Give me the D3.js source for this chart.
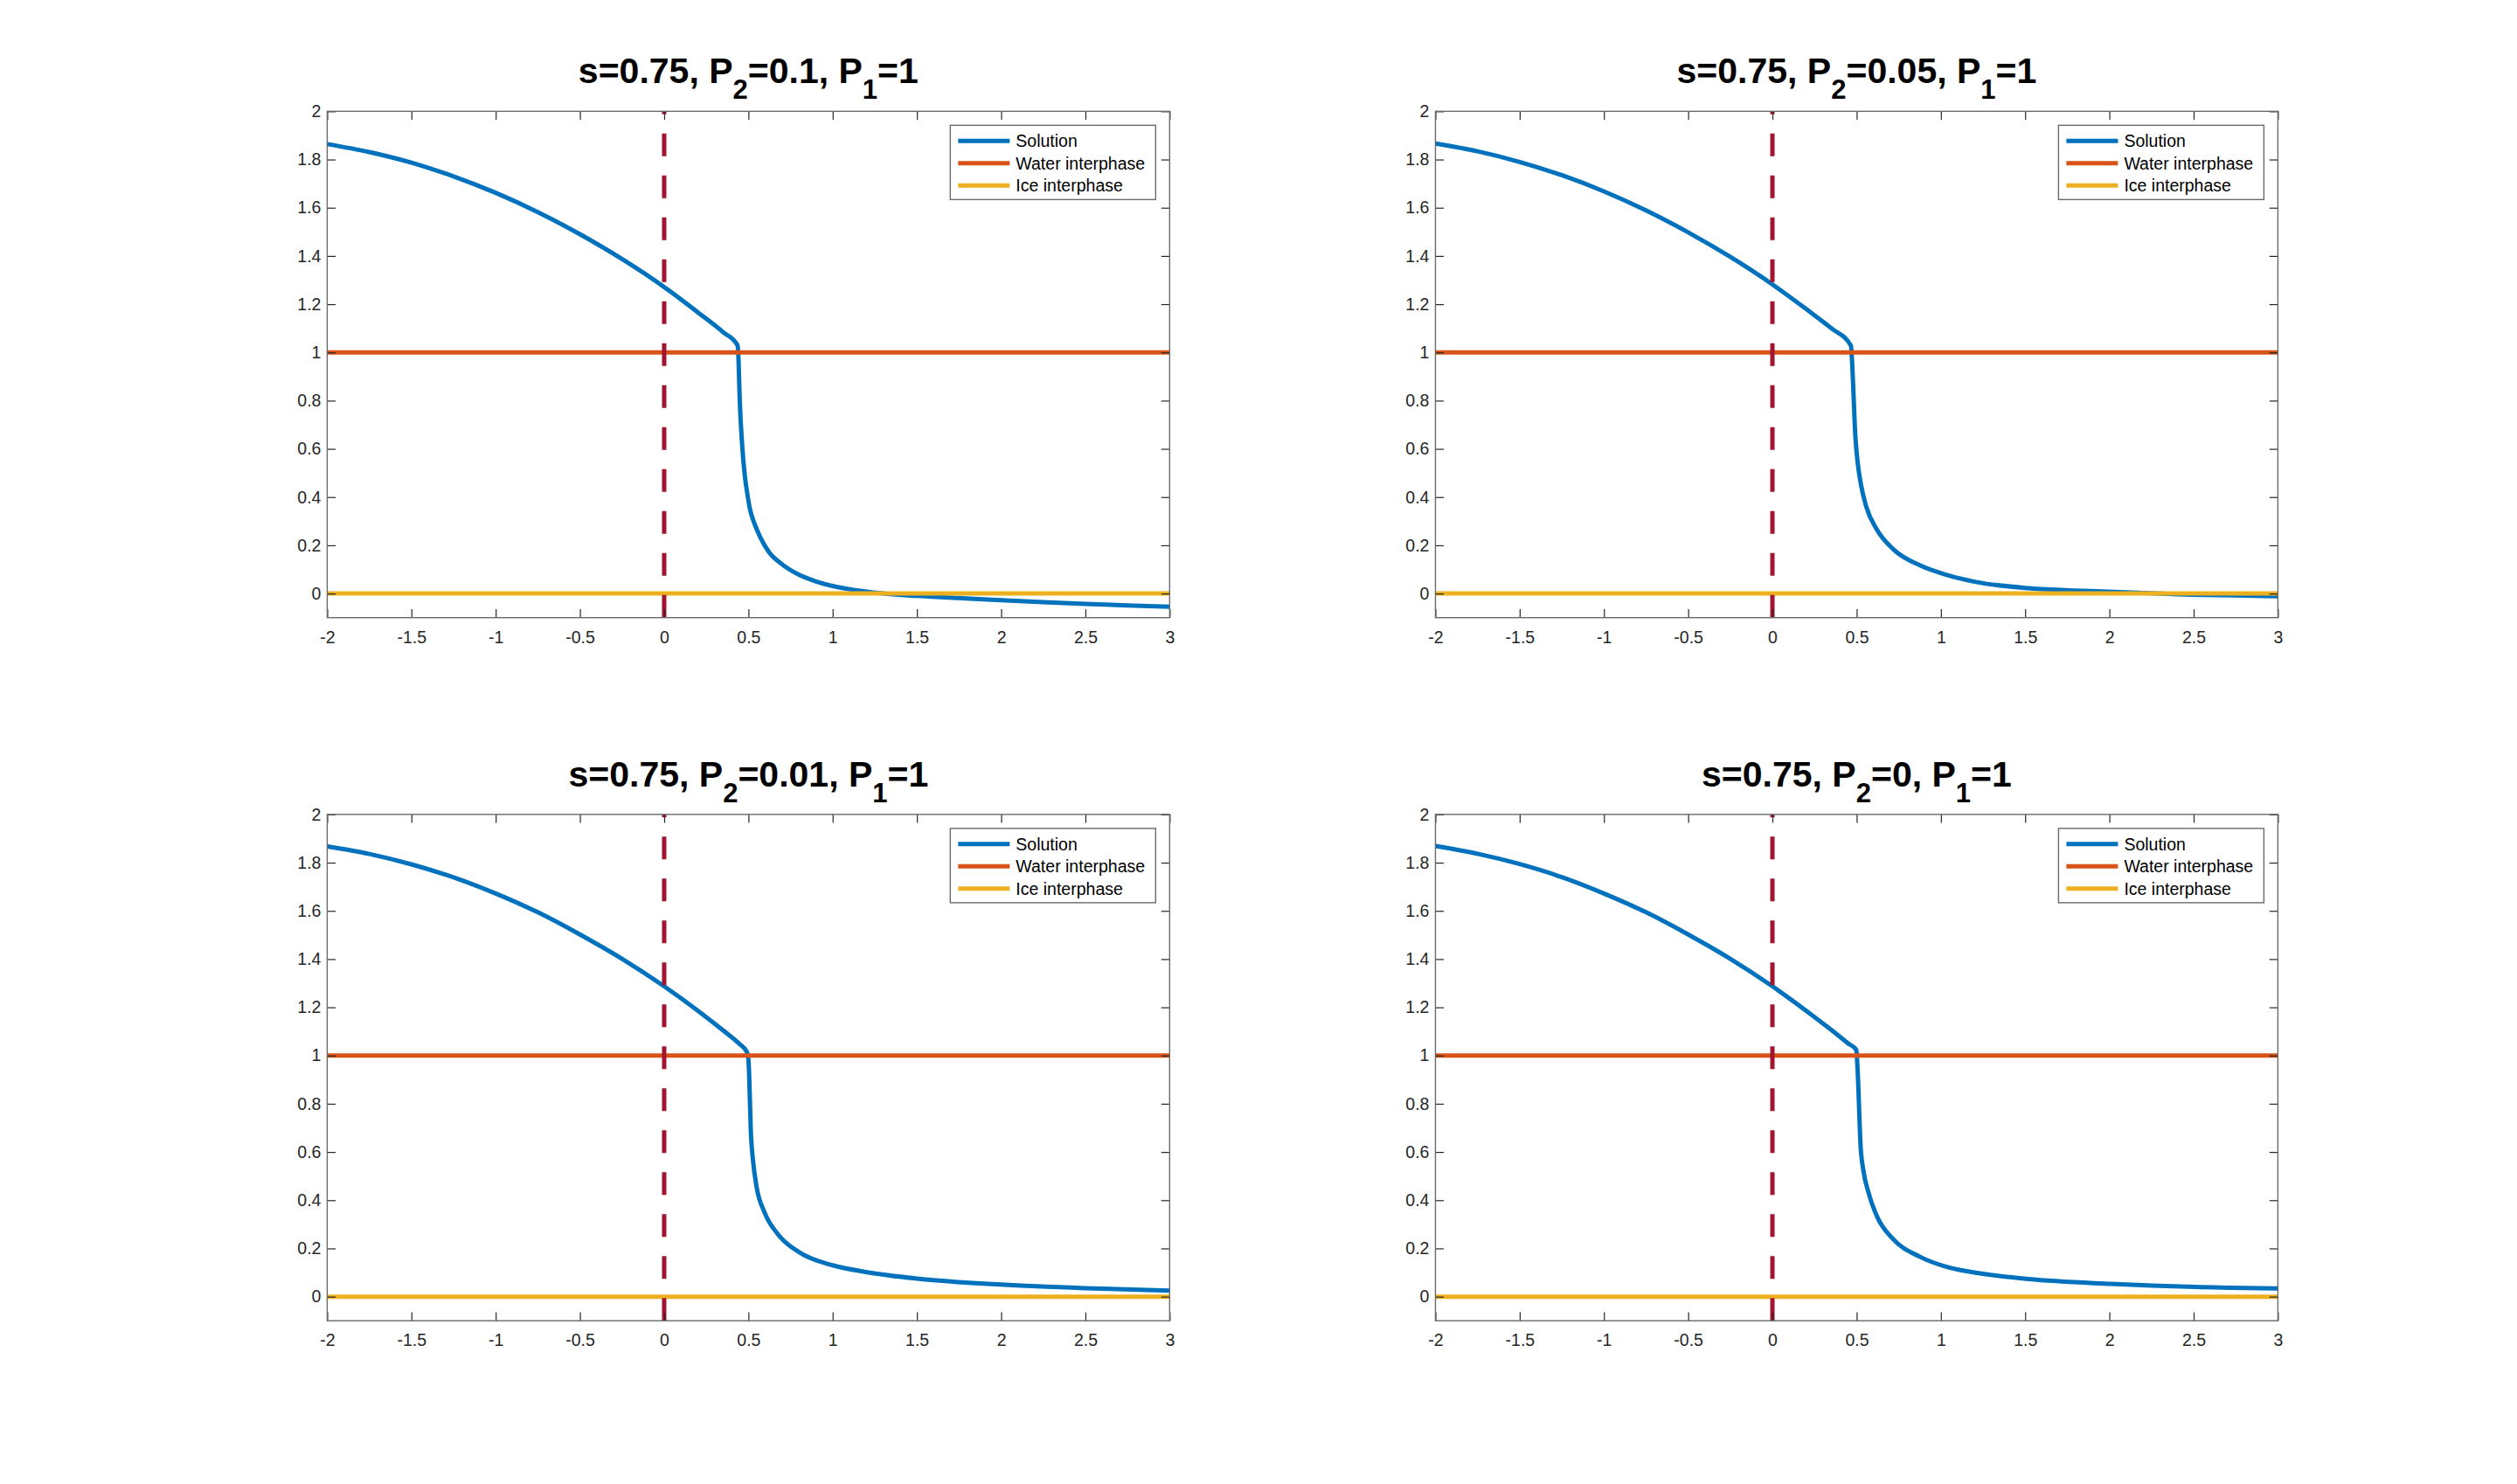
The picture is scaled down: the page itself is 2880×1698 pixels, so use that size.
<!DOCTYPE html>
<html><head><meta charset="utf-8">
<script src="https://cdn.jsdelivr.net/npm/d3@7/dist/d3.min.js"></script>
<style>html,body{margin:0;padding:0;background:#fff;} svg{display:block;}</style>
</head><body>
<svg id="fig" width="2880" height="1698"></svg>
<script>
// ---------- data ----------
const xTicks = [-2, -1.5, -1, -0.5, 0, 0.5, 1, 1.5, 2, 2.5, 3];
const xTickLabels = ["-2", "-1.5", "-1", "-0.5", "0", "0.5", "1", "1.5", "2", "2.5", "3"];
const yTicks = [0, 0.2, 0.4, 0.6, 0.8, 1, 1.2, 1.4, 1.6, 1.8, 2];
const yTickLabels = ["0", "0.2", "0.4", "0.6", "0.8", "1", "1.2", "1.4", "1.6", "1.8", "2"];
const xDomain = [-2, 3];
const yDomain = [-0.1, 2];
const sValue = "0.75";
const p1Value = "1";
const p2Values = ["0.1", "0.05", "0.01", "0"];
const legendLabels = ["Solution", "Water interphase", "Ice interphase"];
const waterLevel = 1;
const iceLevel = 0;
const markerX = 0;

// Solution, P2 = 0.1
const solX_a = [-2, -1.75, -1.5, -1.25, -1, -0.75, -0.5, -0.25, 0, 0.2, 0.35, 0.435, 0.44, 0.449, 0.463, 0.48, 0.492, 0.509, 0.535, 0.57, 0.622, 0.691, 0.794, 0.898, 1.071, 1.244, 1.5, 1.75, 2, 2.25, 2.5, 2.75, 3];
const solY_a = [1.864, 1.831, 1.787, 1.730, 1.662, 1.582, 1.490, 1.387, 1.271, 1.166, 1.084, 1.030, 0.988, 0.794, 0.613, 0.480, 0.420, 0.350, 0.292, 0.234, 0.172, 0.126, 0.080, 0.051, 0.021, 0.004, -0.010, -0.019, -0.028, -0.036, -0.043, -0.049, -0.055];
// Solution, P2 = 0.05
const solX_b = [-2, -1.75, -1.5, -1.25, -1, -0.75, -0.5, -0.25, 0, 0.2, 0.35, 0.466, 0.471, 0.48, 0.49, 0.505, 0.525, 0.557, 0.62, 0.717, 0.878, 1.04, 1.2, 1.52, 1.85, 2.17, 2.49, 2.75, 3];
const solY_b = [1.866, 1.834, 1.790, 1.735, 1.668, 1.589, 1.498, 1.396, 1.282, 1.180, 1.100, 1.028, 0.985, 0.850, 0.680, 0.550, 0.454, 0.360, 0.265, 0.184, 0.116, 0.076, 0.049, 0.022, 0.011, 0.003, -0.005, -0.008, -0.011];
// Solution, P2 = 0.01
const solX_c = [-2, -1.75, -1.5, -1.25, -1, -0.75, -0.5, -0.25, 0, 0.2, 0.35, 0.45, 0.49, 0.5, 0.516, 0.526, 0.548, 0.596, 0.676, 0.804, 1.0, 1.19, 1.5, 2, 2.5, 3];
const solY_c = [1.867, 1.836, 1.793, 1.739, 1.672, 1.594, 1.502, 1.401, 1.287, 1.186, 1.104, 1.046, 1.016, 0.983, 0.660, 0.572, 0.457, 0.349, 0.258, 0.183, 0.130, 0.103, 0.075, 0.050, 0.035, 0.025];
// Solution, P2 = 0
const solX_d = [-2, -1.75, -1.5, -1.25, -1, -0.75, -0.5, -0.25, 0, 0.2, 0.35, 0.45, 0.498, 0.505, 0.524, 0.54, 0.572, 0.62, 0.716, 0.877, 1.04, 1.25, 1.52, 2.01, 2.51, 3];
const solY_d = [1.869, 1.837, 1.794, 1.740, 1.672, 1.594, 1.502, 1.401, 1.287, 1.186, 1.106, 1.050, 1.023, 0.950, 0.617, 0.523, 0.428, 0.334, 0.239, 0.165, 0.122, 0.095, 0.073, 0.053, 0.040, 0.034];

const solutionsX = [solX_a, solX_b, solX_c, solX_d];
const solutionsY = [solY_a, solY_b, solY_c, solY_d];

// ---------- style ----------
const W = 2880, H = 1698;
const colors = {solution: "#0072BD", water: "#D95319", ice: "#EDB120", marker: "#A2142F"};
const FONT = "'Liberation Sans', Arial, Helvetica, sans-serif";
const axColor = "#262626";

// MATLAB default 2x2 subplot positions (normalized)
const colLeft = [0.13, 0.5703];
const rowBottom = [0.5838, 0.11];
const axW = 0.3347, axH = 0.3412;

const svg = d3.select("#fig");
svg.append("rect").attr("width", W).attr("height", H).attr("fill", "#fff");

for (let i = 0; i < 4; i++) {
  const col = i % 2, row = Math.floor(i / 2);
  const left = colLeft[col] * W;
  const top = H - (rowBottom[row] + axH) * H;
  const w = axW * W, h = axH * H;

  const x = d3.scaleLinear().domain(xDomain).range([0, w]);
  const y = d3.scaleLinear().domain(yDomain).range([h, 0]);

  const g = svg.append("g").attr("transform", `translate(${left},${top})`);
  const clipId = "clip" + i;
  g.append("clipPath").attr("id", clipId).append("rect").attr("width", w).attr("height", h);

  g.append("rect").attr("width", w).attr("height", h).attr("fill", "#fff");

  const plot = g.append("g").attr("clip-path", `url(#${clipId})`);
  const pts = solutionsX[i].map((xv, k) => [xv, solutionsY[i][k]]);
  const line = d3.line().x(d => x(d[0])).y(d => y(d[1])).curve(d3.curveMonotoneX);
  const straight = d3.line().x(d => x(d[0])).y(d => y(d[1]));

  plot.append("path").attr("d", line(pts)).attr("fill", "none")
    .attr("stroke", colors.solution).attr("stroke-width", 5).attr("stroke-linejoin", "round");
  plot.append("path").attr("d", straight(xDomain.map(v => [v, waterLevel])))
    .attr("fill", "none").attr("stroke", colors.water).attr("stroke-width", 5);
  plot.append("path").attr("d", straight(xDomain.map(v => [v, iceLevel])))
    .attr("fill", "none").attr("stroke", colors.ice).attr("stroke-width", 5);
  plot.append("path").attr("d", straight([[markerX, yDomain[0]], [markerX, yDomain[1]]]))
    .attr("fill", "none").attr("stroke", colors.marker).attr("stroke-width", 5)
    .attr("stroke-dasharray", "26,22");

  // axes
  const tl = 9.6;
  const xb = g.append("g").attr("transform", `translate(0,${h})`)
    .call(d3.axisBottom(x).tickValues(xTicks).tickFormat((d, k) => xTickLabels[k]).tickSize(-tl).tickPadding(15));
  const xt = g.append("g")
    .call(d3.axisTop(x).tickValues(xTicks).tickFormat("").tickSize(-tl));
  const yl = g.append("g")
    .call(d3.axisLeft(y).tickValues(yTicks).tickFormat((d, k) => yTickLabels[k]).tickSize(-tl).tickPadding(7));
  const yr = g.append("g").attr("transform", `translate(${w},0)`)
    .call(d3.axisRight(y).tickValues(yTicks).tickFormat("").tickSize(-tl));
  [xb, xt, yl, yr].forEach(a => {
    a.select(".domain").remove();
    a.selectAll(".tick line").attr("stroke", axColor).attr("stroke-width", 1.2);
    a.selectAll("text").attr("font-family", FONT).attr("font-size", 19.5).attr("fill", axColor);
  });
  g.append("rect").attr("width", w).attr("height", h).attr("fill", "none")
    .attr("stroke", "#6a6a6a").attr("stroke-width", 1.4);

  // title
  const t = g.append("text").attr("x", w / 2).attr("y", -32).attr("text-anchor", "middle")
    .attr("font-family", FONT).attr("font-weight", "bold").attr("font-size", 41).attr("fill", "#000");
  t.append("tspan").text(`s=${sValue}, P`);
  t.append("tspan").attr("font-size", 31).attr("dy", 18).text("2");
  t.append("tspan").attr("dy", -18).text(`=${p2Values[i]}, P`);
  t.append("tspan").attr("font-size", 31).attr("dy", 18).text("1");
  t.append("tspan").attr("dy", -18).text(`=${p1Value}`);

  // legend
  const lgW = 235, lgH = 85;
  const lg = g.append("g").attr("transform", `translate(${w - 16 - lgW},16)`);
  lg.append("rect").attr("width", lgW).attr("height", lgH).attr("fill", "#fff")
    .attr("stroke", "#6a6a6a").attr("stroke-width", 1.4);
  const lgColors = [colors.solution, colors.water, colors.ice];
  legendLabels.forEach((lab, k) => {
    const yy = 18 + k * 25.5;
    lg.append("line").attr("x1", 9).attr("x2", 68).attr("y1", yy).attr("y2", yy)
      .attr("stroke", lgColors[k]).attr("stroke-width", 5);
    lg.append("text").attr("x", 75).attr("y", yy).attr("dy", "0.35em")
      .attr("font-family", FONT).attr("font-size", 19.5).attr("fill", "#000").text(lab);
  });
}
</script>
</body></html>
